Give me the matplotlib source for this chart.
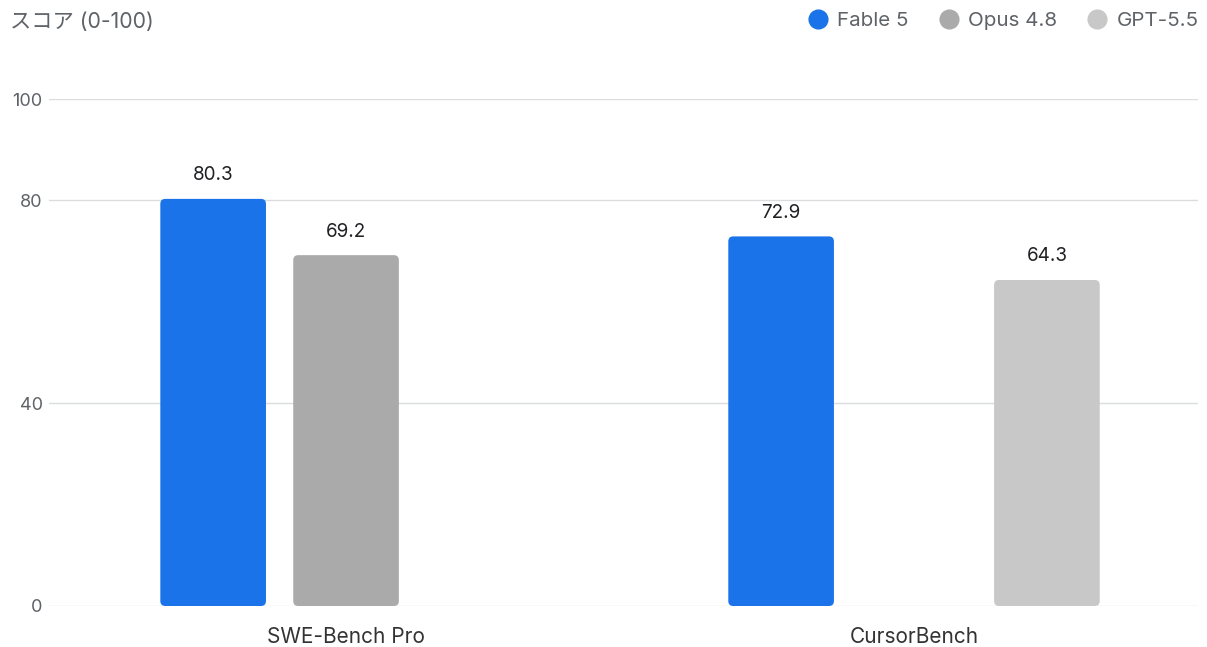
import matplotlib
matplotlib.use("Agg")
import matplotlib.pyplot as plt
from matplotlib.patches import FancyBboxPatch
from matplotlib.lines import Line2D
import numpy as np

categories = ["SWE-Bench Pro", "CursorBench"]
series_names = ["Fable 5", "Opus 4.8", "GPT-5.5"]
fable_5 = [80.3, 72.9]
opus_4_8 = [69.2, None]
gpt_5_5 = [None, 64.3]
y_ticks = [0, 40, 80, 100]
y_title = "スコア (0-100)"

colors = ["#1a73e8", "#aaaaaa", "#c8c8c8"]
gray_text = "#5f6368"
dark_text = "#202124"
grid_col = "#dadce0"

plt.rcParams['font.family'] = ['Inter', 'Noto Sans CJK JP', 'DejaVu Sans']

fig = plt.figure(figsize=(12.07, 6.47), dpi=100)
W, H = 1207, 647
ax = fig.add_axes([49 / W, (H - 606) / H, (1198 - 49) / W, (606 - 99) / H])

x = np.arange(len(categories))
slot = 0.234
bw = 0.186
ax.set_xlim(-0.523, 1.5)
ax.set_ylim(0, 100)

all_series = [fable_5, opus_4_8, gpt_5_5]
offsets = [-slot, 0, slot]

# pixel scale for rounded corners
p0 = ax.transData.transform((0, 0))
p1 = ax.transData.transform((1, 1))
px_x = p1[0] - p0[0]
px_y = p1[1] - p0[1]
r_px = 5
r_x = r_px / px_x
aspect = (1 / px_y) / (1 / px_x)

for vals, off, col in zip(all_series, offsets, colors):
    for xi, v in zip(x, vals):
        if v is None:
            continue
        bars = ax.bar(xi + off, v, width=bw, color=col)
        for b in bars:
            bx, by = b.get_x(), b.get_y()
            bwid, bh = b.get_width(), b.get_height()
            b.remove()
            patch = FancyBboxPatch((bx, by), bwid, bh,
                                   boxstyle=f"round,pad=0,rounding_size={r_x}",
                                   mutation_aspect=aspect,
                                   facecolor=col, edgecolor="none", zorder=3)
            ax.add_patch(patch)
        ax.annotate(f"{v:.1f}", (xi + off, v), xytext=(0, 17),
                    textcoords="offset points", ha="center", va="center",
                    fontsize=13.6, color=dark_text)

ax.set_yticks(y_ticks)
ax.set_yticklabels([str(t) for t in y_ticks])
ax.yaxis.grid(True, color=grid_col, linewidth=1)
ax.set_axisbelow(True)
ax.set_xticks(x)
ax.set_xticklabels(categories)
ax.tick_params(axis="y", length=0, pad=4.5, labelsize=13, labelcolor=gray_text)
ax.tick_params(axis="x", length=0, pad=15, labelsize=15, labelcolor="#333333")
for s in ax.spines.values():
    s.set_visible(False)

fig.text(10 / W, 1 - 22 / H, y_title, ha="left", va="center",
         fontsize=15.3, color=gray_text)

handles = [Line2D([], [], marker="o", linestyle="", markersize=13.5,
                  markerfacecolor=c, markeredgecolor=c) for c in colors]
leg = fig.legend(handles, series_names, loc="center right",
                 bbox_to_anchor=(1199 / W, 1 - 21 / H), ncol=3, frameon=False,
                 fontsize=14.8, handlelength=1.0, handletextpad=0.45,
                 columnspacing=1.45, borderpad=0, borderaxespad=0)
for t in leg.get_texts():
    t.set_color(gray_text)

fig.savefig("out.png", dpi=100, facecolor="white")
